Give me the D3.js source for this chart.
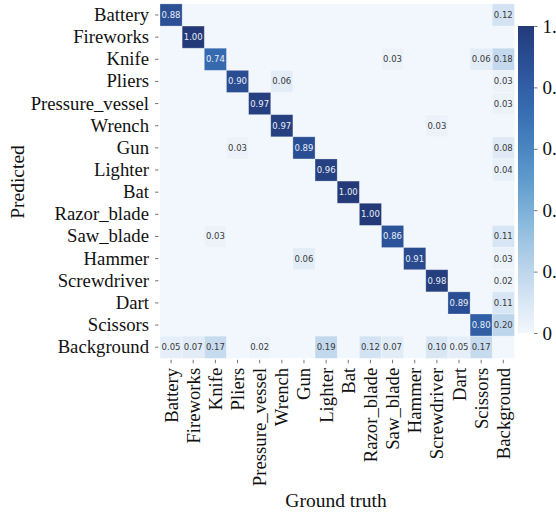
<!DOCTYPE html>
<html>
<head>
<meta charset="utf-8">
<script src="https://cdn.jsdelivr.net/npm/d3@7"></script>
<style>
  html, body { margin: 0; padding: 0; background: #ffffff; }
  svg { display: block; }
</style>
</head>
<body>
<svg id="chart" width="556" height="515"></svg>
<script>
// Class names shared by both axes
const classes = ["Battery", "Fireworks", "Knife", "Pliers", "Pressure_vessel", "Wrench", "Gun",
  "Lighter", "Bat", "Razor_blade", "Saw_blade", "Hammer", "Screwdriver", "Dart", "Scissors", "Background"];

// Non-zero entries of the normalised confusion matrix: [predicted row, ground-truth column, value]
const predictedIdx = [0, 0, 1, 2, 2, 2, 2, 3, 3, 3, 4, 4, 5, 5, 6, 6, 6, 7, 7, 8, 9,
  10, 10, 10, 11, 11, 11, 12, 12, 13, 13, 14, 14,
  15, 15, 15, 15, 15, 15, 15, 15, 15, 15];
const truthIdx = [0, 15, 1, 2, 10, 14, 15, 3, 5, 15, 4, 15, 5, 12, 3, 6, 15, 7, 15, 8, 9,
  2, 10, 15, 6, 11, 15, 12, 15, 13, 15, 14, 15,
  0, 1, 2, 4, 7, 9, 10, 12, 13, 14];
const values = [0.88, 0.12, 1.00, 0.74, 0.03, 0.06, 0.18, 0.90, 0.06, 0.03, 0.97, 0.03, 0.97, 0.03, 0.03, 0.89, 0.08, 0.96, 0.04, 1.00, 1.00,
  0.03, 0.86, 0.11, 0.06, 0.91, 0.03, 0.98, 0.02, 0.89, 0.11, 0.80, 0.20,
  0.05, 0.07, 0.17, 0.02, 0.19, 0.12, 0.07, 0.10, 0.05, 0.17];

const colorTicks = [0, 0.2, 0.4, 0.6, 0.8, 1.0];

const svg = d3.select("#chart");
const serif = "'Liberation Serif', 'Times New Roman', serif";

const gridLeft = 160, gridTop = 3.9, cell = 22.15;
const n = classes.length;

const x = d3.scaleBand().domain(d3.range(n)).range([gridLeft, gridLeft + n * cell]).padding(0);
const y = d3.scaleBand().domain(d3.range(n)).range([gridTop, gridTop + n * cell]).padding(0);
// Soft blue ramp, light at 0 and deep navy at 1
const blueRamp = d3.interpolateRgbBasis(["#f2f7fd", "#cadcef", "#93bfdf", "#5b9bcc", "#3c78ba", "#2d58a2", "#243a78"]);
const color = d3.scaleSequential(blueRamp).domain([0, 1]);

// Empty cells
svg.append("rect")
  .attr("x", gridLeft).attr("y", gridTop)
  .attr("width", n * cell).attr("height", n * cell)
  .attr("fill", color(0));

const cells = values.map((v, i) => ({ r: predictedIdx[i], c: truthIdx[i], v }));

svg.append("g").selectAll("rect")
  .data(cells).join("rect")
  .attr("x", d => x(d.c)).attr("y", d => y(d.r))
  .attr("width", x.bandwidth()).attr("height", y.bandwidth())
  .attr("fill", d => color(d.v))
  .attr("stroke", "#ffffff").attr("stroke-opacity", 0.35).attr("stroke-width", 0.8);

svg.append("g").selectAll("text")
  .data(cells).join("text")
  .attr("x", d => x(d.c) + x.bandwidth() / 2)
  .attr("y", d => y(d.r) + y.bandwidth() / 2)
  .attr("text-anchor", "middle").attr("dominant-baseline", "central")
  .attr("font-family", "'DejaVu Sans', sans-serif").attr("font-size", 8.5)
  .attr("fill", d => d.v > 0.5 ? "#e8edf5" : "#3a3a3a")
  .text(d => d.v.toFixed(2));

// Y axis (Predicted)
const yAxis = d3.axisLeft(d3.scaleBand().domain(classes).range([gridTop, gridTop + n * cell]))
  .tickSize(3.5).tickPadding(6);
const gy = svg.append("g").attr("transform", `translate(${gridLeft - 1.5},0)`).call(yAxis);
gy.select(".domain").remove();
gy.selectAll(".tick line").attr("stroke", "#555").attr("stroke-width", 0.8);
gy.selectAll(".tick text").attr("font-family", serif).attr("font-size", 18.7).attr("fill", "#111");

// X axis (Ground truth)
const xAxis = d3.axisBottom(d3.scaleBand().domain(classes).range([gridLeft, gridLeft + n * cell]))
  .tickSize(3.5).tickPadding(6);
const gx = svg.append("g").attr("transform", `translate(0,${gridTop + n * cell + 1.5})`).call(xAxis);
gx.select(".domain").remove();
gx.selectAll(".tick line").attr("stroke", "#555").attr("stroke-width", 0.8);
gx.selectAll(".tick text")
  .attr("font-family", serif).attr("font-size", 18.7).attr("fill", "#111")
  .attr("text-anchor", "end").attr("dy", null)
  .attr("transform", "rotate(-90)")
  .attr("x", -8).attr("y", 0).attr("dominant-baseline", "central");

// Axis titles
svg.append("text")
  .attr("transform", "translate(24,182) rotate(-90)")
  .attr("text-anchor", "middle")
  .attr("font-family", serif).attr("font-size", 19.5).attr("fill", "#111")
  .text("Predicted");
svg.append("text")
  .attr("x", 336).attr("y", 507)
  .attr("text-anchor", "middle")
  .attr("font-family", serif).attr("font-size", 19.5).attr("fill", "#111")
  .text("Ground truth");

// Colour bar
const cbX = 518, cbW = 16, cbTop = 26, cbBottom = 333;
const defs = svg.append("defs");
const grad = defs.append("linearGradient").attr("id", "cbgrad")
  .attr("x1", 0).attr("y1", 1).attr("x2", 0).attr("y2", 0);
d3.range(0, 1.0001, 0.05).forEach(t => {
  grad.append("stop").attr("offset", t).attr("stop-color", color(t));
});
svg.append("rect")
  .attr("x", cbX).attr("y", cbTop).attr("width", cbW).attr("height", cbBottom - cbTop)
  .attr("fill", "url(#cbgrad)");

const cbScale = d3.scaleLinear().domain([0, 1]).range([cbBottom, cbTop]);
const cbAxis = d3.axisRight(cbScale).tickValues(colorTicks)
  .tickFormat(d => d === 0 ? "0" : d3.format(".1f")(d))
  .tickSize(3.5).tickPadding(5);
const gc = svg.append("g").attr("transform", `translate(${cbX + cbW},0)`).call(cbAxis);
gc.select(".domain").remove();
gc.selectAll(".tick line").attr("stroke", "#555").attr("stroke-width", 0.8);
gc.selectAll(".tick text").attr("font-family", serif).attr("font-size", 19).attr("fill", "#111");
</script>
</body>
</html>
